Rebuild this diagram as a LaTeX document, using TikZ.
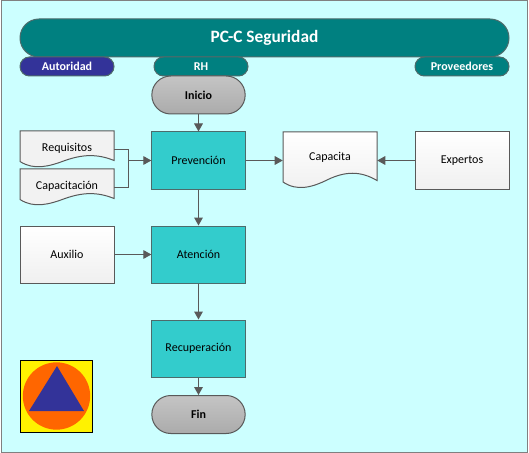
\documentclass[tikz,border=0pt]{standalone}
\usepackage{fontspec}
\setmainfont{Carlito}
\usetikzlibrary{positioning,arrows.meta}
\definecolor{fondo}{HTML}{CCFFFF}
\definecolor{teal1}{HTML}{008080}
\definecolor{azul1}{HTML}{333399}
\definecolor{turq1}{HTML}{33CCCC}
\definecolor{linea}{HTML}{595959}
\definecolor{borde}{HTML}{4D6B6B}
\definecolor{naranja}{HTML}{FF6600}
\newcommand{\docshape}[3]{%
  \draw[#3, shift={(#1,#2)}] (-47,-28.5) -- (47,-28.5) -- (47,20)
    .. controls (30,10) and (15,11) .. (-2,19)
    .. controls (-18,27) and (-33,31) .. (-47,21.5) -- cycle;}
\newcommand{\smalldoc}[3]{%
  \draw[#3, shift={(#1,#2)}] (-47,-18.5) -- (47,-18.5) -- (47,11)
    .. controls (30,4) and (15,5) .. (-2,11)
    .. controls (-18,17) and (-33,21) .. (-47,12) -- cycle;}
\begin{document}
\begin{tikzpicture}[
  x=0.75pt, y=-0.75pt,
  every node/.style={font=\fontsize{9}{11}\selectfont, inner sep=0pt},
  pill/.style={draw=borde, line width=0.75pt, rounded corners=7.1pt, fill=teal1,
               text=white, minimum width=70.5pt, minimum height=14.25pt,
               font=\fontsize{9}{11}\selectfont\bfseries},
  term/.style={draw=linea, line width=0.75pt, rounded corners=14.2pt,
               top color=black!23, bottom color=black!33,
               minimum width=70pt, minimum height=28.5pt,
               font=\fontsize{9}{11}\selectfont\bfseries},
  proc/.style={draw=borde, line width=0.75pt, fill=turq1,
               minimum width=70pt, minimum height=42.75pt},
  ext/.style={draw=linea, line width=0.75pt, top color=white, bottom color=black!6,
              minimum width=70.5pt, minimum height=42.75pt},
  docbox/.style={minimum width=70.5pt, minimum height=28pt},
  docline/.style={draw=linea, line width=0.75pt},
  conn/.style={draw=linea, line width=0.75pt},
  flow/.style={conn, -{Triangle[length=6pt,width=6.5pt]}}
]
  \useasboundingbox (0,0) rectangle (529,453);
  \draw[draw=gray, fill=fondo, line width=0.75pt] (1,0.5) rectangle (527.5,452);

  \node[pill, minimum width=366.75pt, minimum height=28.5pt, rounded corners=14.2pt,
        font=\fontsize{13}{15}\selectfont\bfseries] (titulo) at (264.5,38) {PC-C Seguridad};
  \node[pill, fill=azul1] (autoridad)  at (67,66.5)  {Autoridad};
  \node[pill]             (rh)         at (201,66.5) {RH};
  \node[pill]             (proveedores) at (462,66.5) {Proveedores};

  \node[term] (inicio) at (198.5,95)  {Inicio};
  \node[proc] (prevencion) at (198.5,160.5) {Prevención};
  \node[proc] (atencion)   at (198.5,254.5) {Atención};
  \node[proc] (recuperacion) at (198.5,348.5) {Recuperación};
  \node[term] (fin) at (198.5,414.5) {Fin};

  \smalldoc{67}{149.5}{docline, fill=black!5}
  \node[docbox] (requisitos) at (67,149.5) {\raisebox{3pt}{Requisitos}};
  \smalldoc{67}{187.5}{docline, fill=black!5}
  \node[docbox] (capacitacion) at (67,187.5) {\raisebox{3pt}{Capacitación}};
  \docshape{330}{160.5}{docline, top color=white, bottom color=black!6}
  \node[docbox, minimum height=42.75pt] (capacita) at (330,160.5) {\raisebox{6pt}{Capacita}};

  \node[ext] (expertos) at (462,160.5) {Expertos};
  \node[ext] (auxilio)  at (67,254.5)  {Auxilio};

  \coordinate (union) at (128,160.5);

  \draw[flow] (inicio) -- (prevencion);
  \draw[conn] (requisitos.east) -| (union);
  \draw[conn] (capacitacion.east) -| (union);
  \draw[flow] (union) -- (prevencion);
  \draw[flow] (prevencion) -- (capacita);
  \draw[flow] (expertos) -- (capacita);
  \draw[flow] (prevencion) -- (atencion);
  \draw[flow] (auxilio) -- (atencion);
  \draw[flow] (atencion) -- (recuperacion);
  \draw[flow] (recuperacion) -- (fin);

  % escudo
  \node[draw=black, fill=yellow, line width=0.75pt, minimum size=54.5pt] (escudo) at (56.5,396.5) {};
  \node[circle, fill=naranja, minimum size=50.5pt] (disco) at (56.5,396) {};
  \fill[azul1] (57,366) -- (84,411) -- (29,411) -- cycle;
\end{tikzpicture}
\end{document}
